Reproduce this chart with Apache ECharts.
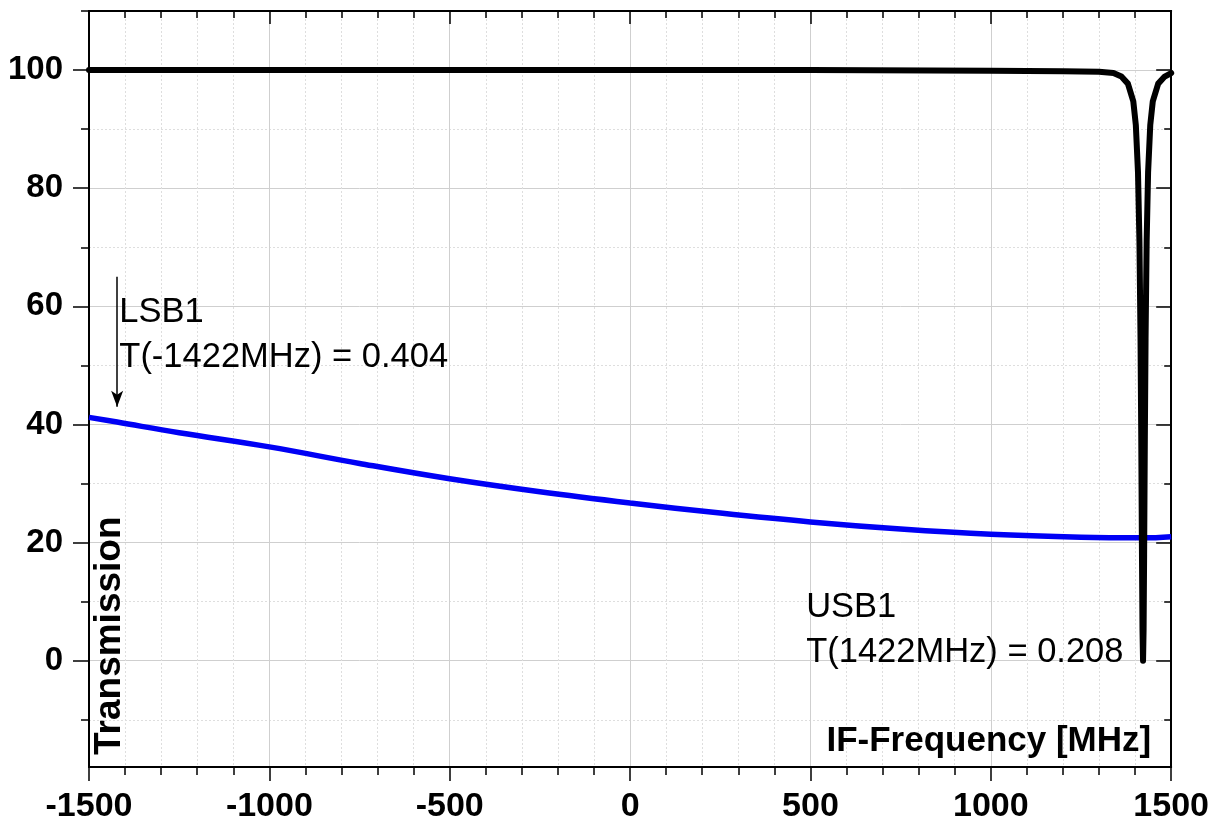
<!DOCTYPE html>
<html><head><meta charset="utf-8">
<script src="https://cdn.jsdelivr.net/npm/echarts@6/dist/echarts.min.js"></script>
<style>html,body{margin:0;padding:0;background:#fff;overflow:hidden}#c{width:1212px;height:824px}</style>
</head><body><div id="c"></div>
<script>
// ---- data ----
const xMin = -1500, xMax = 1500, xStep = 500;
const yMin = -18, yMax = 110;
const yMajorTicks = [0, 20, 40, 60, 80, 100];
const yMinorTicks = [-10, 10, 30, 50, 70, 90, 110];

const blueFreq = [-1500, -1422, -1250, -1000, -750, -500, -250, 0, 250, 500, 750, 1000, 1250, 1422, 1500];
const blueT    = [41.2, 40.4, 38.6, 36.2, 33.4, 30.8, 28.6, 26.7, 25.0, 23.5, 22.3, 21.4, 20.9, 20.8, 21.0];

const blackFreq = [-1500, -1000, -500, 0, 500, 1000, 1200, 1300, 1340, 1362, 1380, 1395, 1402, 1408, 1412, 1415, 1417, 1419, 1420.5, 1422, 1423.5, 1425, 1427, 1429, 1432, 1436, 1442, 1449, 1464, 1482, 1500];
const blackT    = [100, 100, 100, 100, 100, 99.9, 99.8, 99.7, 99.5, 98.9, 97.7, 94.7, 90.7, 82.7, 71, 54.5, 38, 18, 5.2, 0, 5.2, 18, 38, 54.5, 71, 82.7, 90.7, 94.7, 97.7, 98.9, 99.5];

const lsbText = ['LSB1', 'T(-1422MHz) = 0.404'];
const lsbAt = [-1416, 55.2];
const usbText = ['USB1', 'T(1422MHz) = 0.208'];
const usbAt = [488, 5.2];
const arrowFreq = -1422, arrowFrom = 65, arrowTo = 43;

const xName = 'IF-Frequency [MHz]';
const yName = 'Transmission';

// ---- chart ----
const FONT = 'Liberation Sans, Arial, sans-serif';
const majorGrid = {show: true, lineStyle: {color: '#cfcfcf', width: 1, type: 'solid'}};
const minorGrid = {show: true, lineStyle: {color: '#dedede', width: 1, type: [2, 2]}};
const axisLineStyle = {show: true, onZero: false, lineStyle: {color: '#000', width: 2}};
const tickStyle = {color: '#000', width: 1.5};

function zip(a, b) { return a.map((v, i) => [v, b[i]]); }

const chart = echarts.init(document.getElementById('c'), null, {renderer: 'canvas', width: 1212, height: 824});
const option = {
  animation: false,
  backgroundColor: '#fff',
  grid: {left: 89, right: 39, top: 11, bottom: 55, containLabel: false},
  xAxis: [
    {
      type: 'value', position: 'bottom', min: xMin, max: xMax, interval: xStep,
      axisLine: axisLineStyle,
      axisTick: {show: true, inside: false, length: 14, lineStyle: tickStyle},
      minorTick: {show: true, splitNumber: 5, length: 8, lineStyle: tickStyle},
      axisLabel: {show: true, color: '#000', fontFamily: FONT, fontWeight: 'bold', fontSize: 34, margin: 23, formatter: v => String(v)},
      splitLine: majorGrid,
      minorSplitLine: minorGrid,
      name: xName, nameLocation: 'end', nameGap: -20,
      nameTextStyle: {color: '#000', fontFamily: FONT, fontWeight: 'bold', fontSize: 35, align: 'right', verticalAlign: 'bottom', padding: [0, 0, 8, 0]}
    },
    {
      type: 'value', position: 'top', min: xMin, max: xMax, interval: xStep,
      axisLine: axisLineStyle,
      axisTick: {show: true, inside: true, length: 13, lineStyle: tickStyle},
      minorTick: {show: true, splitNumber: 5, length: 7, lineStyle: tickStyle},
      axisLabel: {show: false},
      splitLine: {show: false}
    }
  ],
  yAxis: [
    {
      type: 'value', position: 'left', min: yMin, max: yMax, offset: 0,
      axisLine: axisLineStyle,
      axisTick: {show: true, inside: false, length: 16, customValues: yMajorTicks, lineStyle: tickStyle},
      axisLabel: {show: true, customValues: yMajorTicks, color: '#000', fontFamily: FONT, fontWeight: 'bold', fontSize: 33, margin: 26},
      splitLine: majorGrid,
      name: yName, nameLocation: 'start', nameGap: -12, nameRotate: 90,
      nameTextStyle: {color: '#000', fontFamily: FONT, fontWeight: 'bold', fontSize: 37, align: 'left', verticalAlign: 'top', padding: [2, 0, 0, 0]}
    },
    {
      type: 'value', position: 'left', min: yMin, max: yMax, offset: 0,
      axisLine: axisLineStyle,
      axisTick: {show: true, inside: false, length: 8, customValues: yMinorTicks, lineStyle: tickStyle},
      axisLabel: {show: false, customValues: yMinorTicks},
      splitLine: minorGrid
    },
    {
      type: 'value', position: 'right', min: yMin, max: yMax, offset: 0,
      axisLine: axisLineStyle,
      axisTick: {show: true, inside: true, length: 15, customValues: yMajorTicks, lineStyle: tickStyle},
      axisLabel: {show: false, customValues: yMajorTicks},
      splitLine: {show: false}
    },
    {
      type: 'value', position: 'right', min: yMin, max: yMax, offset: 0,
      axisLine: axisLineStyle,
      axisTick: {show: true, inside: true, length: 7, customValues: yMinorTicks, lineStyle: tickStyle},
      axisLabel: {show: false, customValues: yMinorTicks},
      splitLine: {show: false}
    }
  ],
  series: [
    {
      type: 'line', name: 'LSB/USB', xAxisIndex: 0, yAxisIndex: 0,
      data: zip(blueFreq, blueT), showSymbol: false, smooth: 0.4, z: 3,
      lineStyle: {color: '#0000f5', width: 5.5},
      markLine: {
        silent: true, symbol: ['none', 'arrow'], symbolSize: [9, 16],
        lineStyle: {color: '#000', width: 1.5, type: 'solid'},
        label: {show: false},
        data: [[{coord: [arrowFreq, arrowFrom]}, {coord: [arrowFreq, arrowTo]}]]
      },
      markPoint: {
        silent: true, symbol: 'circle', symbolSize: 0,
        label: {show: true, position: 'right', distance: 0, color: '#000', fontFamily: FONT, fontSize: 34.5, lineHeight: 45, align: 'left', verticalAlign: 'middle'},
        data: [
          {coord: lsbAt, label: {formatter: lsbText.join('\n')}},
          {coord: usbAt, label: {formatter: usbText.join('\n')}}
        ]
      }
    },
    {
      type: 'line', name: 'notch', xAxisIndex: 0, yAxisIndex: 0,
      data: zip(blackFreq, blackT), showSymbol: false, smooth: false, z: 4,
      lineStyle: {color: '#000', width: 6, cap: 'round', join: 'round'}
    }
  ]
};
chart.setOption(option);
</script>
</body></html>
